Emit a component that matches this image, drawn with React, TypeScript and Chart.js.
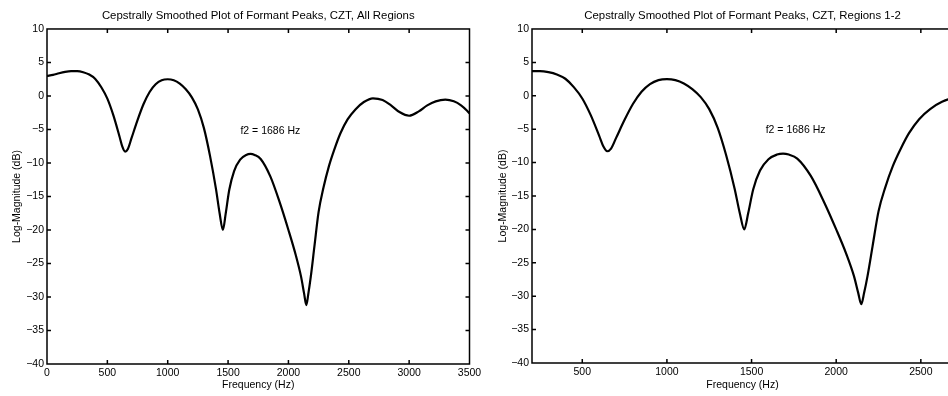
import React, { useEffect, useRef } from 'react';
import { Chart, registerables } from 'chart.js';

Chart.register(...registerables);

// ---- data ----
const FREQ_HZ = [
  0, 50, 100, 150, 200, 250, 300, 350, 400, 450, 500, 550, 600, 625, 647, 670, 700, 750, 800, 850,
  900, 950, 1000, 1050, 1100, 1150, 1200, 1250, 1300, 1350, 1400, 1430, 1457, 1480, 1510, 1550,
  1600, 1650, 1686, 1720, 1770, 1850, 1930, 2000, 2060, 2105, 2130, 2148, 2165, 2185, 2215, 2250,
  2290, 2335, 2380, 2430, 2490, 2555, 2625, 2700, 2780, 2850, 2920, 3000, 3080, 3150, 3220, 3300,
  3370, 3430, 3480, 3500,
];
const LOG_MAG_DB = [
  3.0, 3.15, 3.4, 3.6, 3.7, 3.7, 3.55, 3.2, 2.55, 1.3, -0.4, -2.9, -6.0, -7.6, -8.3, -7.9, -6.3, -3.6, -1.2, 0.6,
  1.75, 2.35, 2.5, 2.35, 1.85, 1.0, -0.2, -2.0, -4.8, -8.9, -13.9, -17.5, -20.0, -17.6, -14.0, -11.2,
  -9.5, -8.8, -8.65, -8.8, -9.4, -12.0, -16.0, -20.0, -23.7, -27.0, -29.5, -31.2, -29.5, -27.0, -22.5, -17.3,
  -13.7, -10.5, -8.0, -5.6, -3.5, -2.0, -0.9, -0.35, -0.6, -1.4, -2.4, -2.95, -2.3, -1.4, -0.8, -0.55,
  -0.8, -1.4, -2.2, -2.6,
];

const Y_MIN = -40;
const Y_MAX = 10;
const Y_STEP = 5;
const X_STEP = 500;

const LEFT_X_RANGE = [0, 3500];
const RIGHT_X_RANGE = [203, 2690];

const LEFT_TITLE = 'Cepstrally Smoothed Plot of Formant Peaks, CZT, All Regions';
const RIGHT_TITLE = 'Cepstrally Smoothed Plot of Formant Peaks, CZT, Regions 1-2';
const X_LABEL = 'Frequency (Hz)';
const Y_LABEL = 'Log-Magnitude (dB)';
const NOTE_TEXT = 'f2 = 1686 Hz';
const LEFT_NOTE_AT = [1850, -5.2];
const RIGHT_NOTE_AT = [1760, -5.2];

const FONT = '"Liberation Sans", Arial, Helvetica, sans-serif';

const frameTicks = {
  id: 'frameTicks',
  afterDatasetsDraw(chart: any, _args: any, opts: any) {
    const { ctx, chartArea } = chart;
    const { left, right, top, bottom } = chartArea;
    const xs = chart.scales.x;
    const ys = chart.scales.y;
    ctx.save();
    ctx.strokeStyle = '#000';
    ctx.lineWidth = 1.5;
    ctx.strokeRect(left, top, right - left, bottom - top);
    const L = 4;
    ctx.beginPath();
    xs.ticks.forEach((t: any) => {
      const px = xs.getPixelForValue(t.value);
      if (px <= left + 1 || px >= right - 1) return;
      ctx.moveTo(px, bottom);
      ctx.lineTo(px, bottom - L);
      ctx.moveTo(px, top);
      ctx.lineTo(px, top + L);
    });
    ys.ticks.forEach((t: any) => {
      const py = ys.getPixelForValue(t.value);
      if (py <= top + 1 || py >= bottom - 1) return;
      ctx.moveTo(left, py);
      ctx.lineTo(left + L, py);
      ctx.moveTo(right, py);
      ctx.lineTo(right - L, py);
    });
    ctx.stroke();
    if (opts && opts.text) {
      ctx.fillStyle = '#000';
      ctx.font = `10.5px ${FONT}`;
      ctx.textAlign = 'center';
      ctx.textBaseline = 'middle';
      ctx.fillText(opts.text, xs.getPixelForValue(opts.at[0]), ys.getPixelForValue(opts.at[1]));
    }
    ctx.restore();
  },
};

type PanelProps = {
  title: string;
  xRange: number[];
  noteAt: number[];
  left: number;
  width: number;
  yAxisWidth: number;
  xAxisHeight: number;
  padRight: number;
  yTitleOffset: number;
};

function Panel(p: PanelProps) {
  const ref = useRef<HTMLCanvasElement | null>(null);
  useEffect(() => {
    if (!ref.current) return;
    const data = FREQ_HZ.map((f, i) => ({ x: f, y: LOG_MAG_DB[i] }));
    const fmt = (v: any) => (v < 0 ? '\u2212' + Math.abs(v) : String(v));
    const chart = new Chart(ref.current, {
      type: 'line',
      data: {
        datasets: [
          {
            data,
            borderColor: '#000',
            borderWidth: 2.2,
            pointRadius: 0,
            cubicInterpolationMode: 'monotone',
            fill: false,
          },
        ],
      },
      options: {
        animation: false,
        responsive: false,
        devicePixelRatio: 1,
        layout: { padding: { left: 0, right: p.padRight, top: 0, bottom: 0 } },
        plugins: {
          legend: { display: false },
          tooltip: { enabled: false },
          title: {
            display: true,
            text: p.title,
            fullSize: false,
            color: '#000',
            font: { family: FONT, size: 11.4, weight: 'normal', lineHeight: 1.2 },
            padding: { top: 9.5, bottom: 5.8 },
          },
          frameTicks: { text: NOTE_TEXT, at: p.noteAt },
        } as any,
        scales: {
          x: {
            type: 'linear',
            min: p.xRange[0],
            max: p.xRange[1],
            bounds: 'data',
            grid: { display: false, drawTicks: false },
            border: { display: false },
            afterBuildTicks: (s: any) => {
              const out: any[] = [];
              for (let v = Math.ceil(s.min / X_STEP) * X_STEP; v <= s.max + 1e-6; v += X_STEP) {
                out.push({ value: v });
              }
              s.ticks = out;
            },
            ticks: {
              stepSize: X_STEP,
              includeBounds: false,
              autoSkip: false,
              maxRotation: 0,
              padding: 3,
              color: '#000',
              font: { family: FONT, size: 10.5 },
              callback: fmt,
            },
            title: {
              display: true,
              text: X_LABEL,
              color: '#000',
              font: { family: FONT, size: 10.5, lineHeight: 1.2 },
              padding: { top: 0, bottom: 5 },
            },
            afterFit: (s: any) => {
              s.height = p.xAxisHeight;
            },
          },
          y: {
            type: 'linear',
            min: Y_MIN,
            max: Y_MAX,
            grid: { display: false, drawTicks: false },
            border: { display: false },
            ticks: {
              stepSize: Y_STEP,
              autoSkip: false,
              padding: 3,
              color: '#000',
              font: { family: FONT, size: 10.5 },
              callback: fmt,
            },
            title: {
              display: true,
              text: Y_LABEL,
              color: '#000',
              font: { family: FONT, size: 10.5, lineHeight: 1.2 },
              padding: { top: p.yTitleOffset, bottom: 0 },
            },
            afterFit: (s: any) => {
              s.width = p.yAxisWidth;
            },
          },
        },
      } as any,
      plugins: [frameTicks as any],
    });
    return () => chart.destroy();
  }, []);
  return (
    <canvas
      ref={ref}
      width={p.width}
      height={396}
      style={{ position: 'absolute', left: p.left, top: 0, width: p.width, height: 396 }}
    />
  );
}

export default function App() {
  return (
    <div
      style={{
        position: 'fixed',
        left: 0,
        top: 0,
        width: 948,
        height: 396,
        overflow: 'hidden',
        background: '#fff',
      }}
    >
      <Panel
        title={LEFT_TITLE}
        xRange={LEFT_X_RANGE}
        noteAt={LEFT_NOTE_AT}
        left={0}
        width={500}
        yAxisWidth={47}
        xAxisHeight={32}
        padRight={30.5}
        yTitleOffset={11}
      />
      <Panel
        title={RIGHT_TITLE}
        xRange={RIGHT_X_RANGE}
        noteAt={RIGHT_NOTE_AT}
        left={474}
        width={520}
        yAxisWidth={58}
        xAxisHeight={33}
        padRight={41}
        yTitleOffset={22.7}
      />
    </div>
  );
}
